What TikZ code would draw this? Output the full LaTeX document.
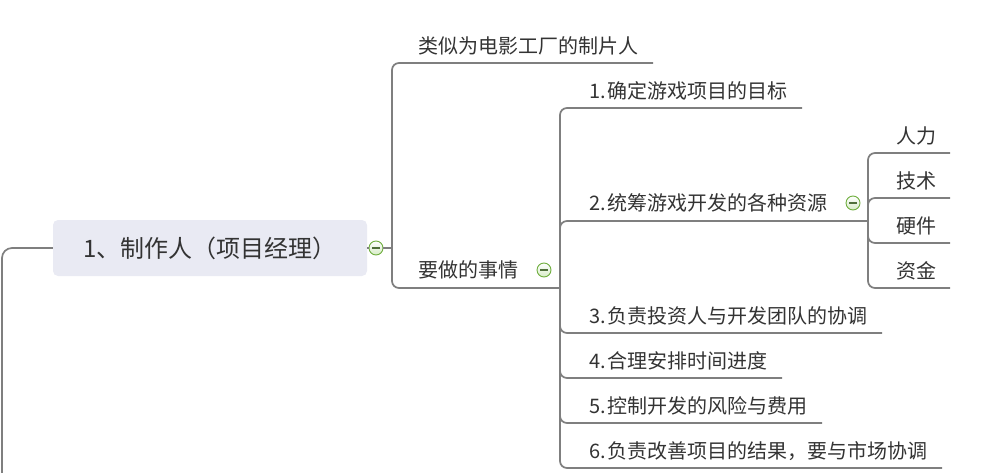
\documentclass[tikz,border=0pt]{standalone}
\usepackage{fontspec}
\setmainfont{Noto Sans CJK SC}
\newcommand{\numsep}{\hspace{2pt}}
\begin{document}
\begin{tikzpicture}[x=1pt,y=-1pt,
  conn/.style={draw=linegray,line width=1.7pt,rounded corners=7pt},
  mainbox/.style={fill=nodefill,rounded corners=5pt,minimum width=314pt,minimum height=56pt,inner sep=0pt,text=txt,font=\fontsize{24}{24}\selectfont},
  leaf/.style={anchor=west,inner sep=0pt,text=txt,font=\fontsize{20}{20}\selectfont},
  toggle/.style={circle,draw=btngreen,line width=0.9pt,minimum size=14pt,inner sep=0pt,top color=white,bottom color=btnfill,
    path picture={\draw[line width=1.2pt,draw=minus] ([xshift=-4pt]path picture bounding box.center) -- ([xshift=4pt]path picture bounding box.center);}}
]
\definecolor{linegray}{HTML}{7F7F7F}
\definecolor{nodefill}{HTML}{E9EAF3}
\definecolor{txt}{HTML}{333333}
\definecolor{btngreen}{HTML}{6FAE3E}
\definecolor{btnfill}{HTML}{D6ECC6}
\definecolor{minus}{HTML}{4F6F3A}
\useasboundingbox (0,0) rectangle (982,473);

% root
\node[mainbox] (root) at (210,248) {1、制作人（项目经理）};
\coordinate (lbot) at (2,480);
\draw[conn,rounded corners=10pt] (lbot) |- (root.west);

\node[toggle] (c1) at (376,248) {};
\coordinate (j1) at (392,248);
\draw[conn] (root.east) -- (c1.west);
\draw[conn] (c1.east) -- (j1);

% first level
\node[leaf] (a1) at (418,46) {类似为电影工厂的制片人};
\coordinate (ea1) at (653,63);
\node[leaf] (a2) at (418,270) {要做的事情};
\node[toggle] (c2) at (544,270) {};
\coordinate (j2) at (560,288);
\draw[conn] (j1) |- (ea1);
\draw[conn] (j1) |- (j2);

% second level
\node[leaf] (b1) at (589,91) {1.\numsep 确定游戏项目的目标};
\coordinate (eb1) at (802,108);
\node[leaf] (b2) at (589,203) {2.\numsep 统筹游戏开发的各种资源};
\node[toggle] (c3) at (853,203) {};
\coordinate (j3) at (868,221);
\node[leaf] (b3) at (589,316) {3.\numsep 负责投资人与开发团队的协调};
\coordinate (eb3) at (882,333);
\node[leaf] (b4) at (589,361) {4.\numsep 合理安排时间进度};
\coordinate (eb4) at (782,378);
\node[leaf] (b5) at (589,406) {5.\numsep 控制开发的风险与费用};
\coordinate (eb5) at (822,423);
\node[leaf] (b6) at (589,451) {6.\numsep 负责改善项目的结果，要与市场协调};
\coordinate (eb6) at (942,468);
\draw[conn] (j2) |- (eb1);
\draw[conn] (j2) |- (j3);
\draw[conn] (j2) |- (eb3);
\draw[conn] (j2) |- (eb4);
\draw[conn] (j2) |- (eb5);
\draw[conn] (j2) |- (eb6);

% third level
\node[leaf] (d1) at (896,136) {人力};
\coordinate (ed1) at (950,153);
\node[leaf] (d2) at (896,181) {技术};
\coordinate (ed2) at (950,198);
\node[leaf] (d3) at (896,226) {硬件};
\coordinate (ed3) at (950,243);
\node[leaf] (d4) at (896,271) {资金};
\coordinate (ed4) at (950,288);
\draw[conn] (j3) |- (ed1);
\draw[conn] (j3) |- (ed2);
\draw[conn] (j3) |- (ed3);
\draw[conn] (j3) |- (ed4);
\end{tikzpicture}
\end{document}
